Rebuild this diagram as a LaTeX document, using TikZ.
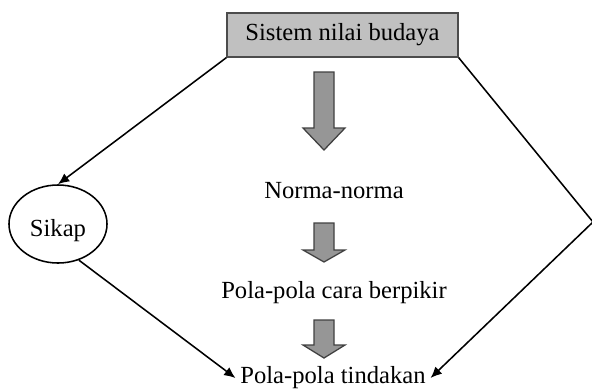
\documentclass[tikz,border=0pt]{standalone}
\usepackage{fontspec}
\setmainfont{Liberation Serif}
\usetikzlibrary{shapes.geometric,arrows.meta}

\definecolor{boxgray}{HTML}{C0C0C0}
\definecolor{arrowgray}{HTML}{969696}

% block arrow pointing down: top centre, shaft length, head length
\newcommand{\blockdown}[3]{%
  \draw[blockarrow] (#1) ++(-10,0) -- ++(20,0) -- ++(0,#2) -- ++(11,0)
    -- ++(-21,#3) -- ++(-21,-#3) -- ++(11,0) -- cycle;}

\begin{document}
\begin{tikzpicture}[x=0.025cm, y=-0.025cm,
    every node/.style={font=\fontsize{17.5}{20}\selectfont},
    topbox/.style={rectangle, draw=black!70, fill=boxgray, line width=0.9pt,
      minimum width=5.775cm, minimum height=1.1cm},
    attitude/.style={ellipse, draw, line width=1.1pt, minimum width=2.45cm, minimum height=1.95cm},
    blockarrow/.style={draw=black!75, fill=arrowgray, line width=0.9pt},
    conn/.style={line width=1.1pt, -{Latex[length=8pt,width=7pt]}}]
   \useasboundingbox (0,0) rectangle (592,391);
   \node[topbox] (nilai) at (342.5,35) {Sistem\ nilai\ budaya};
   \node[attitude] (sikap) at (58,224) {\raisebox{-5pt}[\height][\depth]{Sikap}};
   \node (norma) at (334,191) {Norma-norma};
   \node (berpikir) at (334,293) {Pola-pola\ cara\ berpikir};
   \node (tindakan) at (333,378) {Pola-pola\ tindakan};
   \coordinate (corner) at (593,222);
   \coordinate (a1) at (324,72);
   \coordinate (a2) at (324,223);
   \coordinate (a3) at (324,320);
   \blockdown{a1}{56}{22}
   \blockdown{a2}{27}{12}
   \blockdown{a3}{25}{13}
   \draw[conn] (nilai.south west) to [shorten >=4pt] (sikap.north);
   \draw[conn] (sikap.-60) to [shorten <=4pt] (tindakan.west);
   \draw[conn] (nilai.south east) -- (corner) -- (tindakan.east);
\end{tikzpicture}
\end{document}
